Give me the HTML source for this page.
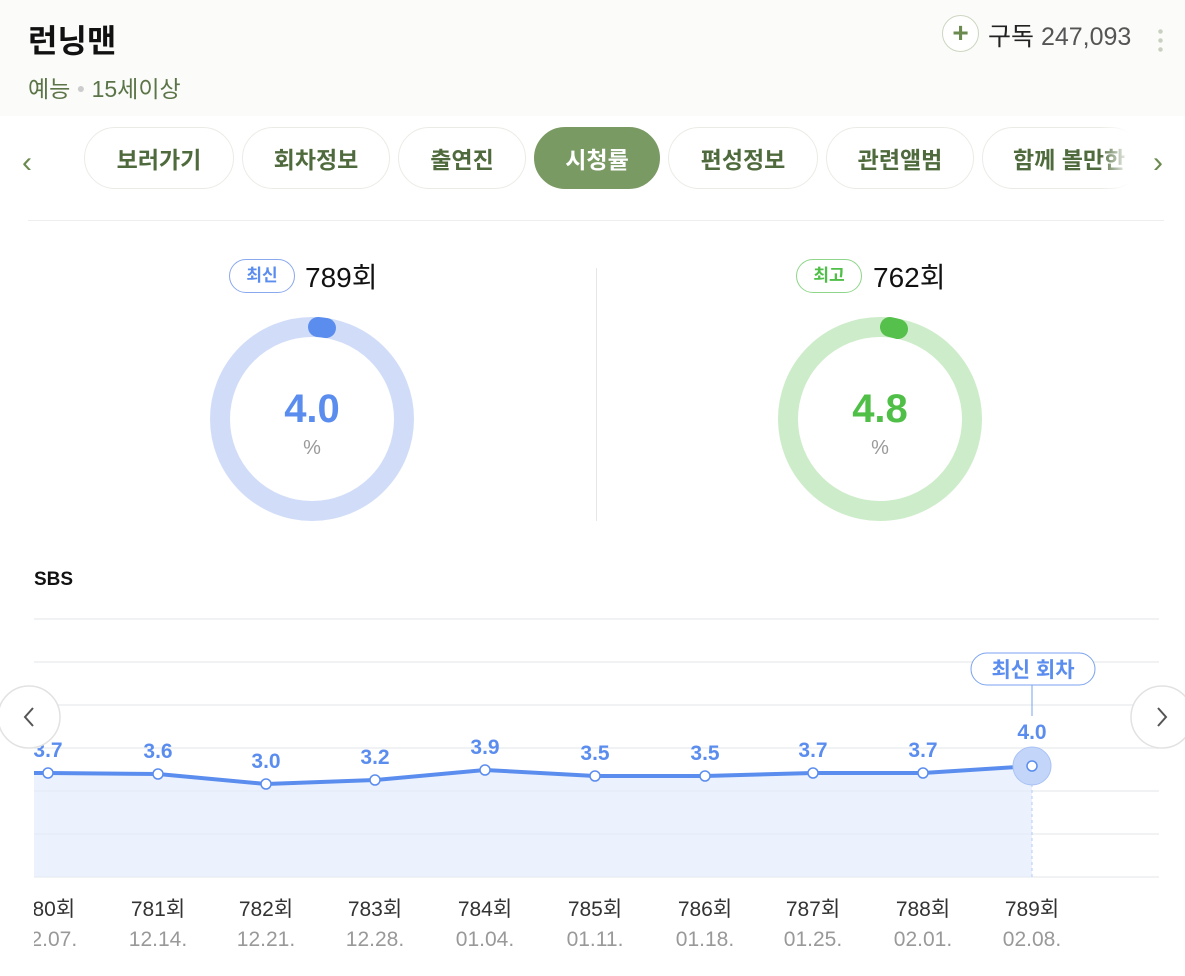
<!DOCTYPE html>
<html><head><meta charset="utf-8"><style>
*{margin:0;padding:0;box-sizing:border-box}
body{width:1185px;height:976px;background:#fff;font-family:"Liberation Sans","Noto Sans CJK KR",sans-serif;position:relative;overflow:hidden}
.hdr{position:absolute;left:0;top:0;width:1185px;height:116px;background:#fbfbf9}
.abs{position:absolute;white-space:nowrap}
.tab{position:absolute;top:127px;height:62px;border:1px solid #ebebe6;border-radius:31px;background:#fff;font-size:23px;font-weight:bold;color:#4f6a3c;display:flex;align-items:center;justify-content:center}
</style></head><body>
<div class="hdr"></div>
<div class="abs" style="left:28px;top:16px;font-size:32px;font-weight:bold;color:#111">런닝맨</div>
<div class="abs" style="left:28px;top:70px;font-size:23px;color:#5b7548">예능 <span style="color:#ccc;font-size:14px;vertical-align:4px">●</span> 15세이상</div>
<div class="abs" style="left:942px;top:15px;width:37px;height:37px;border:1px solid #ccd6c0;border-radius:50%;background:#fff;color:#6b8a50;font-size:28px;font-weight:bold;text-align:center;line-height:34px">+</div>
<div class="abs" style="left:988px;top:17px;font-size:25px;color:#222">구독 <span style="color:#555">247,093</span></div>
<div class="abs" style="left:1158px;top:27px;width:5px;height:26px;background:radial-gradient(circle,#c8d0c0 2px,transparent 2.5px) 0 0/5px 9px repeat-y"></div>
<div class="abs" style="left:22px;top:146px;font-size:30px;color:#6b8a50">‹</div>
<div class="abs" style="left:1153px;top:146px;font-size:30px;color:#6b8a50">›</div>
<div class="tab" style="left:84px;width:150px">보러가기</div>
<div class="tab" style="left:242px;width:148px">회차정보</div>
<div class="tab" style="left:398px;width:128px">출연진</div>
<div class="tab" style="left:534px;width:126px;background:#7a9a64;color:#fff;border-color:#7a9a64">시청률</div>
<div class="tab" style="left:668px;width:150px">편성정보</div>
<div class="tab" style="left:826px;width:148px">관련앨범</div>
<div class="tab" style="left:982px;width:160px;justify-content:flex-start;padding-left:30px;overflow:hidden">함께 볼만한</div>
<div class="abs" style="left:1100px;top:127px;width:42px;height:62px;background:linear-gradient(to right,rgba(255,255,255,0),#fff 70%)"></div>
<div class="abs" style="left:28px;top:220px;width:1136px;height:1px;background:#eee"></div>
<div class="abs" style="left:596px;top:268px;width:1px;height:253px;background:#e6e6e6"></div>
<div class="abs" style="left:229px;top:259px;width:66px;height:34px;border:1px solid #8aa8ee;border-radius:17px;color:#5b8def;font-size:17px;font-weight:bold;text-align:center;line-height:32px">최신</div>
<div class="abs" style="left:305px;top:256px;font-size:28px;color:#111">789회</div>
<div class="abs" style="left:796px;top:259px;width:66px;height:34px;border:1px solid #8fd68a;border-radius:17px;color:#4fbf47;font-size:17px;font-weight:bold;text-align:center;line-height:32px">최고</div>
<div class="abs" style="left:873px;top:256px;font-size:28px;color:#111">762회</div>
<svg class="abs" style="left:0;top:0" width="1185" height="976">
<defs><clipPath id="c"><rect x="34" y="600" width="1125" height="376"/></clipPath></defs>
<circle cx="312" cy="419" r="92" fill="none" stroke="#d1ddf8" stroke-width="20"/>
<path d="M318 327 A92 92 0 0 1 326 328" fill="none" stroke="#5b8def" stroke-width="20" stroke-linecap="round"/>
<circle cx="880" cy="419" r="92" fill="none" stroke="#cdecc9" stroke-width="20"/>
<path d="M890 327 A92 92 0 0 1 898 329" fill="none" stroke="#55c04b" stroke-width="20" stroke-linecap="round"/>
<text x="312" y="422" text-anchor="middle" font-size="40" font-weight="bold" fill="#5b8def" font-family="Liberation Sans">4.0</text>
<text x="312" y="454" text-anchor="middle" font-size="20" fill="#999" font-family="Liberation Sans">%</text>
<text x="880" y="422" text-anchor="middle" font-size="40" font-weight="bold" fill="#4fbf47" font-family="Liberation Sans">4.8</text>
<text x="880" y="454" text-anchor="middle" font-size="20" fill="#999" font-family="Liberation Sans">%</text>
<text x="34" y="585" font-size="19" font-weight="bold" fill="#111" font-family="Liberation Sans">SBS</text>
<g clip-path="url(#c)">
<g stroke="#f0f2f4" stroke-width="2">
<line x1="34" y1="619" x2="1159" y2="619"/><line x1="34" y1="662" x2="1159" y2="662"/><line x1="34" y1="705" x2="1159" y2="705"/><line x1="34" y1="748" x2="1159" y2="748"/><line x1="34" y1="791" x2="1159" y2="791"/><line x1="34" y1="834" x2="1159" y2="834"/><line x1="34" y1="877" x2="1159" y2="877"/>
</g>
<path d="M34 773 L48 773 L158 774 L266 784 L375 780 L485 770 L595 776 L705 776 L813 773 L923 773 L1032 766 L1032 877 L34 877Z" fill="#e2ecfc" fill-opacity="0.7"/>
<line x1="1032" y1="766" x2="1032" y2="877" stroke="#b5ccf5" stroke-dasharray="3,3"/>
<line x1="1032" y1="685" x2="1032" y2="716" stroke="#7aa2f0"/>
<polyline points="34,773 48,773 158,774 266,784 375,780 485,770 595,776 705,776 813,773 923,773 1032,766" fill="none" stroke="#5b8def" stroke-width="4"/>
<circle cx="1032" cy="766" r="19" fill="#c3d6fa" stroke="#a9c2f5"/>
<g fill="#fff" stroke="#5b8def" stroke-width="1.5">
<circle cx="48" cy="773" r="5"/><circle cx="158" cy="774" r="5"/><circle cx="266" cy="784" r="5"/><circle cx="375" cy="780" r="5"/><circle cx="485" cy="770" r="5"/><circle cx="595" cy="776" r="5"/><circle cx="705" cy="776" r="5"/><circle cx="813" cy="773" r="5"/><circle cx="923" cy="773" r="5"/><circle cx="1032" cy="766" r="5"/>
</g>
<g font-size="21" font-weight="bold" fill="#5b8def" text-anchor="middle" font-family="Liberation Sans">
<text x="48" y="757">3.7</text><text x="158" y="758">3.6</text><text x="266" y="768">3.0</text><text x="375" y="764">3.2</text><text x="485" y="754">3.9</text><text x="595" y="760">3.5</text><text x="705" y="760">3.5</text><text x="813" y="757">3.7</text><text x="923" y="757">3.7</text><text x="1032" y="739">4.0</text>
</g>
<rect x="971" y="653" width="124" height="32" rx="16" fill="#fff" stroke="#7aa2f0"/>
<text x="1033" y="677" text-anchor="middle" font-size="21" font-weight="bold" fill="#5b8def" font-family="Liberation Sans,Noto Sans CJK KR">최신 회차</text>
<g font-size="21" text-anchor="middle" font-family="Liberation Sans,Noto Sans CJK KR">
<g fill="#333"><text x="48" y="916">780회</text><text x="158" y="916">781회</text><text x="266" y="916">782회</text><text x="375" y="916">783회</text><text x="485" y="916">784회</text><text x="595" y="916">785회</text><text x="705" y="916">786회</text><text x="813" y="916">787회</text><text x="923" y="916">788회</text><text x="1032" y="916">789회</text></g>
<g fill="#999"><text x="48" y="946">12.07.</text><text x="158" y="946">12.14.</text><text x="266" y="946">12.21.</text><text x="375" y="946">12.28.</text><text x="485" y="946">01.04.</text><text x="595" y="946">01.11.</text><text x="705" y="946">01.18.</text><text x="813" y="946">01.25.</text><text x="923" y="946">02.01.</text><text x="1032" y="946">02.08.</text></g>
</g>
</g>
<circle cx="29" cy="717" r="31" fill="#fff" stroke="#e2e2e2" stroke-width="1.5"/>
<path d="M33 708 L25 717 L33 726" fill="none" stroke="#555" stroke-width="2"/>
<circle cx="1162" cy="717" r="31" fill="#fff" stroke="#e2e2e2" stroke-width="1.5"/>
<path d="M1158 708 L1166 717 L1158 726" fill="none" stroke="#555" stroke-width="2"/>
</svg>
</body></html>
